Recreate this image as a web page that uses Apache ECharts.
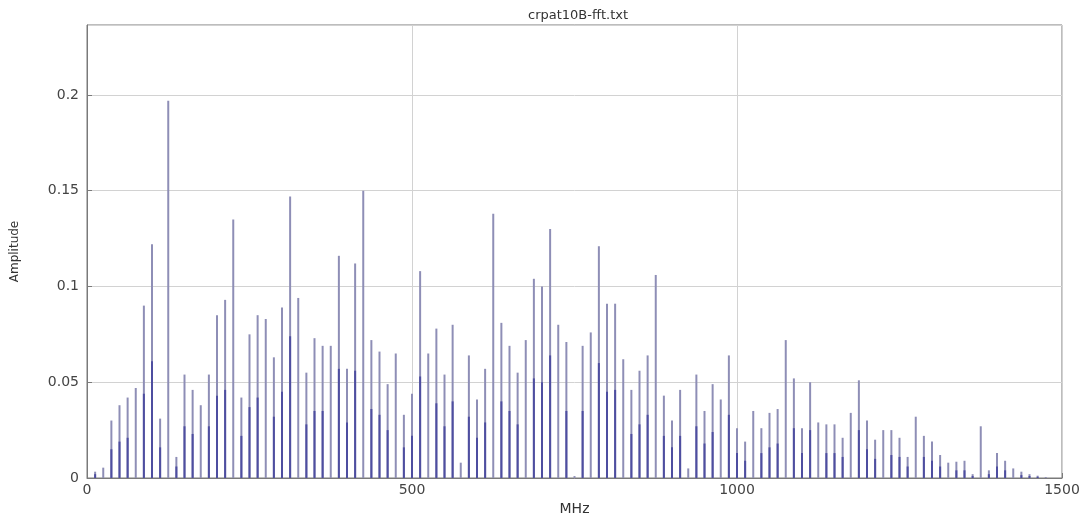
<!DOCTYPE html>
<html>
<head>
<meta charset="utf-8">
<script src="https://cdn.jsdelivr.net/npm/echarts@6/dist/echarts.min.js"></script>
<style>
html,body{margin:0;padding:0;background:#fff;}
#chart{width:1091px;height:515px;}
</style>
</head>
<body>
<div id="chart"></div>
<script>
// Frequencies of the spectral lines (MHz)
const freqs = [12.5,25,37.5,50,62.5,75,87.5,100,112.5,125,137.5,150,162.5,175,187.5,200,212.5,225,237.5,250,
262.5,275,287.5,300,312.5,325,337.5,350,362.5,375,387.5,400,412.5,425,437.5,450,462.5,475,487.5,500,
512.5,525,537.5,550,562.5,575,587.5,600,612.5,625,637.5,650,662.5,675,687.5,700,712.5,725,737.5,750,
762.5,775,787.5,800,812.5,825,837.5,850,862.5,875,887.5,900,912.5,925,937.5,950,962.5,975,987.5,1000,
1012.5,1025,1037.5,1050,1062.5,1075,1087.5,1100,1112.5,1125,1137.5,1150,1162.5,1175,1187.5,1200,1212.5,1225,1237.5,1250,
1262.5,1275,1287.5,1300,1312.5,1325,1337.5,1350,1362.5,1375,1387.5,1400,1412.5,1425,1437.5,1450,1462.5,1475];

// Peak amplitude of each line
const amplitude = [0.0033,0.0054,0.030,0.038,0.042,0.047,0.090,0.122,0.031,0.197,
0.011,0.054,0.046,0.038,0.054,0.085,0.093,0.135,0.042,0.075,
0.085,0.083,0.063,0.089,0.147,0.094,0.055,0.073,0.069,0.069,
0.116,0.057,0.112,0.150,0.072,0.066,0.049,0.065,0.033,0.044,
0.108,0.065,0.078,0.054,0.080,0.008,0.064,0.041,0.057,0.138,
0.081,0.069,0.055,0.072,0.104,0.100,0.130,0.080,0.071,0.001,
0.069,0.076,0.121,0.091,0.091,0.062,0.046,0.056,0.064,0.106,
0.043,0.030,0.046,0.005,0.054,0.035,0.049,0.041,0.064,0.026,
0.019,0.035,0.026,0.034,0.036,0.072,0.052,0.026,0.050,0.029,
0.028,0.028,0.021,0.034,0.051,0.030,0.020,0.025,0.025,0.021,
0.011,0.032,0.022,0.019,0.012,0.008,0.0085,0.009,0.002,0.027,
0.004,0.013,0.009,0.005,0.0033,0.002,0.0012,0.0005];

// Darker overlapping lower component
const lower = [0.002,null,0.015,0.019,0.021,null,0.044,0.061,0.016,null,
0.006,0.027,0.023,null,0.027,0.043,0.046,null,0.022,0.037,
0.042,null,0.032,0.045,0.074,null,0.028,0.035,0.035,null,
0.057,0.029,0.056,null,0.036,0.033,0.025,null,0.016,0.022,
0.053,null,0.039,0.027,0.040,null,0.032,0.021,0.029,null,
0.040,0.035,0.028,null,0.052,0.050,0.064,null,0.035,null,
0.035,null,0.060,0.045,0.046,null,0.023,0.028,0.033,null,
0.022,0.016,0.022,null,0.027,0.018,0.024,null,0.033,0.013,
0.009,null,0.013,0.016,0.018,null,0.026,0.013,0.025,null,
0.013,0.013,0.011,null,0.025,0.015,0.010,null,0.012,0.011,
0.006,null,0.011,0.009,0.006,null,0.004,0.004,0.001,null,
0.002,0.006,0.004,null,0.0015,0.001,0.0006,null];

const xTicks = [0, 500, 1000, 1500];
const yTicks = [0, 0.05, 0.1, 0.15, 0.2];

const chart = echarts.init(document.getElementById('chart'), null, {renderer:'canvas'});
const font = 'DejaVu Sans';
chart.setOption({
  animation:false,
  backgroundColor:'#fff',
  title:{
    text:'crpat10B-fft.txt',
    left:573, top:4, textAlign:'center',
    textStyle:{fontFamily:font,fontSize:13,fontWeight:'normal',color:'#333'}
  },
  grid:{left:87,right:29,top:25,bottom:37,show:true,borderColor:'#7a7a7a',borderWidth:1,
    backgroundColor:'transparent',containLabel:false,outerBoundsMode:'none'},
  xAxis:{
    type:'value',min:0,max:1500,interval:500,
    name:'MHz',nameLocation:'middle',nameGap:24,
    nameTextStyle:{fontFamily:font,fontSize:14,color:'#333'},
    axisLine:{show:true,lineStyle:{color:'#7a7a7a'}},
    axisTick:{show:true,inside:true,length:5,lineStyle:{color:'#7a7a7a'}},
    axisLabel:{fontFamily:font,fontSize:14,color:'#444',margin:5,
      formatter:v=>xTicks.includes(v)?String(v):''},
    splitLine:{show:true,lineStyle:{color:'#d2d2d2',width:1}}
  },
  yAxis:{
    type:'value',min:0,max:0.2365,interval:0.05,
    name:'Amplitude',nameLocation:'middle',nameGap:66,
    nameTextStyle:{fontFamily:font,fontSize:12,color:'#333'},
    axisLine:{show:true,lineStyle:{color:'#7a7a7a'}},
    axisTick:{show:true,inside:true,length:5,lineStyle:{color:'#7a7a7a'}},
    axisLabel:{fontFamily:font,fontSize:14,color:'#444',margin:8,showMaxLabel:false,
      formatter:v=>{const t=yTicks.find(y=>Math.abs(y-v)<1e-9);return t===undefined?'':String(t);}},
    splitLine:{show:true,lineStyle:{color:'#d2d2d2',width:1}}
  },
  series:[
    {
      name:'amplitude',type:'bar',barWidth:2,barGap:'-100%',
      itemStyle:{color:'#8e8eb6'},
      data:freqs.map((f,i)=>[f,amplitude[i]])
    },
    {
      name:'lower',type:'bar',barWidth:2,barGap:'-100%',
      itemStyle:{color:'#4e4ea0'},
      data:freqs.map((f,i)=>[f,lower[i]])
    }
  ]
});
</script>
</body>
</html>
